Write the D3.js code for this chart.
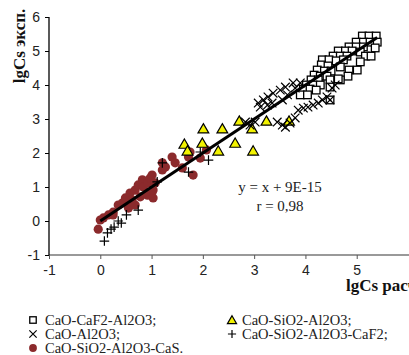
<!DOCTYPE html>
<html>
<head>
<meta charset="utf-8">
<script src="https://cdn.jsdelivr.net/npm/d3@7"></script>
<style>
  html, body { margin: 0; padding: 0; background: #fff; overflow: hidden; }
  svg { display: block; }
</style>
</head>
<body>
<svg id="chart" width="409" height="355"></svg>
<script>
// lgCs calc / lgCs exp pairs
const squares = [ // CaO-CaF2-Al2O3
  [5.11, 5.44], [5.24, 5.44], [5.38, 5.44], [4.99, 5.26], [5.13, 5.26], [5.26, 5.26], [5.40, 5.26],
  [4.85, 5.12], [4.99, 5.12], [5.13, 5.12], [5.36, 5.09], [4.64, 5.00], [4.78, 5.00], [4.91, 5.00],
  [5.07, 4.97], [4.54, 4.85], [4.68, 4.85], [4.81, 4.85], [5.17, 4.85], [5.28, 4.85], [4.33, 4.74],
  [4.46, 4.74], [4.60, 4.71], [4.74, 4.74], [5.07, 4.68], [4.31, 4.59], [4.44, 4.56], [4.68, 4.53],
  [4.23, 4.44], [4.37, 4.41], [4.50, 4.41], [4.85, 4.44], [5.01, 4.44], [4.17, 4.29], [4.29, 4.26],
  [4.42, 4.26], [4.11, 4.15], [4.25, 4.15], [4.48, 4.15], [4.83, 4.26], [4.68, 4.15], [4.02, 4.00],
  [4.15, 4.00], [4.29, 4.00], [4.64, 4.18], [3.96, 3.88], [4.09, 3.88], [4.21, 3.85], [4.48, 3.94],
  [3.90, 3.71], [4.04, 3.71], [4.48, 3.56]
];
const triangles = [ // CaO-SiO2-Al2O3
  [1.64, 2.26], [1.70, 2.06], [2.01, 2.71], [2.38, 2.71], [1.99, 2.29], [2.30, 2.06],
  [2.63, 2.29], [2.71, 2.94], [2.96, 2.71], [3.24, 2.94], [2.98, 2.06], [3.68, 2.94]
];
const crosses = [ // CaO-Al2O3
  [2.83, 2.91], [2.92, 2.82], [3.02, 2.91], [3.08, 3.47], [3.12, 3.35], [3.18, 3.56], [3.26, 3.41],
  [3.27, 3.65], [3.35, 3.47], [3.37, 3.76], [3.45, 2.91], [3.51, 3.85], [3.55, 2.82], [3.55, 3.56],
  [3.61, 3.94], [3.61, 2.76], [3.65, 3.71], [3.70, 2.88], [3.76, 4.06], [3.80, 3.91], [3.80, 3.03],
  [3.86, 3.26], [3.90, 4.06], [3.96, 3.32], [4.05, 3.35], [4.15, 3.41], [4.25, 3.47], [4.33, 3.56],
  [4.42, 3.65], [4.48, 3.56], [4.52, 3.91], [4.58, 4.00]
];
const pluses = [ // CaO-SiO2-Al2O3-CaF2
  [0.08, -0.59], [0.14, -0.35], [0.21, -0.24], [0.27, -0.18], [0.35, 0.00], [0.41, -0.06],
  [0.51, 0.18], [0.74, 0.32], [1.11, 1.15], [1.21, 1.71], [1.72, 1.44], [1.95, 2.03], [2.11, 1.79]
];
const circles = [ // CaO-SiO2-Al2O3-CaS
  [-0.04, -0.24], [0.00, 0.03], [0.06, 0.09], [0.16, 0.18], [0.25, 0.26], [0.25, 0.18], [0.35, 0.47],
  [0.43, 0.53], [0.49, 0.68], [0.55, 0.38], [0.58, 0.82], [0.62, 0.62], [0.68, 0.91], [0.68, 0.47],
  [0.74, 1.06], [0.78, 0.71], [0.82, 1.21], [0.84, 1.00], [0.92, 1.12], [0.92, 0.76], [0.97, 1.26],
  [1.01, 0.85], [1.03, 0.68], [1.07, 1.12], [1.03, 0.91], [1.01, 1.35], [1.21, 1.71], [1.21, 1.50],
  [1.27, 1.59], [1.40, 1.88], [1.46, 1.71], [1.60, 1.56], [1.72, 1.88], [1.75, 2.03], [1.81, 1.35],
  [1.95, 1.85], [2.07, 2.09]
];
const fitLine = [[0, 0], [5.4, 5.4]];
const xTicks = [-1, 0, 1, 2, 3, 4, 5];
const yTicks = [-1, 0, 1, 2, 3, 4, 5, 6];
const legendLabels = ['CaO-CaF2-Al2O3;', 'CaO-SiO2-Al2O3;', 'CaO-Al2O3;', 'CaO-SiO2-Al2O3-CaF2;', 'CaO-SiO2-Al2O3-CaS.'];

const RED = '#8b2a2c';
const YELLOW = '#f2f200';
const SERIF = '"Liberation Serif", "Times New Roman", serif';
const SANS = '"Liberation Sans", Arial, sans-serif';

const svg = d3.select('#chart');
const x = d3.scaleLinear().domain([-1, 6]).range([49, 408]);
const y = d3.scaleLinear().domain([-1, 6]).range([255, 17]);

// axes (plain hyphen for negatives, like the original)
const fmt = d => String(d);
const xAxis = svg.append('g')
  .attr('transform', `translate(0,${y(-1)})`)
  .call(d3.axisBottom(x).tickValues(xTicks).tickSize(4).tickPadding(6).tickFormat(fmt));
xAxis.select('.domain').attr('stroke', '#777').attr('stroke-width', 1.3).attr('d', `M${x(-1)},0H409`);
xAxis.selectAll('line').attr('stroke', '#555');
xAxis.selectAll('text').attr('font-family', SANS).attr('font-size', 14).attr('fill', '#222');

const yAxis = svg.append('g')
  .attr('transform', `translate(${x(-1)},0)`)
  .call(d3.axisLeft(y).tickValues(yTicks).tickSize(4).tickPadding(5).tickFormat(fmt));
yAxis.select('.domain').attr('stroke', '#000').attr('stroke-width', 1.3).attr('d', `M0,${y(6)}V${y(-1)}`);
yAxis.selectAll('line').attr('stroke', '#000');
yAxis.selectAll('text').attr('font-family', SANS).attr('font-size', 14).attr('fill', '#222');

// markers
const triSym = d3.symbol().type(d3.symbolTriangle);

function drawMarker(g, kind, cx, cy, scale) {
  const k = scale || 1;
  if (kind === 'circle') {
    g.append('circle').attr('cx', cx).attr('cy', cy).attr('r', 4.6 * k).attr('fill', RED);
  } else if (kind === 'square') {
    const s = 7.6 * k;
    g.append('rect').attr('x', cx - s / 2).attr('y', cy - s / 2).attr('width', s).attr('height', s)
      .attr('fill', '#fff').attr('stroke', '#000').attr('stroke-width', 1.3);
  } else if (kind === 'triangle') {
    g.append('path').attr('d', triSym.size(50 * k * k)()).attr('transform', `translate(${cx},${cy + 1})`)
      .attr('fill', YELLOW).attr('stroke', '#000').attr('stroke-width', 1.2);
  } else if (kind === 'cross') {
    const h = 4.3 * k;
    g.append('path').attr('d', `M${cx - h},${cy - h}L${cx + h},${cy + h}M${cx - h},${cy + h}L${cx + h},${cy - h}`)
      .attr('stroke', '#000').attr('stroke-width', 1.2).attr('fill', 'none');
  } else if (kind === 'plus') {
    const h = 4.8 * k;
    g.append('path').attr('d', `M${cx - h},${cy}H${cx + h}M${cx},${cy - h}V${cy + h}`)
      .attr('stroke', '#000').attr('stroke-width', 1.2).attr('fill', 'none');
  }
}

const plot = svg.append('g');
const series = [
  { data: circles, kind: 'circle' },
  { data: triangles, kind: 'triangle' },
  { data: squares, kind: 'square' },
  { data: crosses, kind: 'cross' },
  { data: pluses, kind: 'plus' }
];
series.forEach(s => {
  const g = plot.append('g');
  s.data.forEach(d => drawMarker(g, s.kind, x(d[0]), y(d[1])));
});

// regression line
svg.append('path')
  .datum(fitLine)
  .attr('d', d3.line().x(d => x(d[0])).y(d => y(d[1])))
  .attr('stroke', '#000').attr('stroke-width', 3).attr('fill', 'none');

// equation
svg.append('text').attr('x', 280).attr('y', 192).attr('text-anchor', 'middle')
  .attr('font-family', SERIF).attr('font-size', 15).attr('fill', '#222').text('y = x + 9E-15');
svg.append('text').attr('x', 280).attr('y', 211).attr('text-anchor', 'middle')
  .attr('font-family', SERIF).attr('font-size', 15).attr('fill', '#222').text('r = 0,98');

// axis titles
svg.append('text').attr('transform', 'translate(25,46) rotate(-90)').attr('text-anchor', 'middle')
  .attr('font-family', SERIF).attr('font-weight', 'bold').attr('font-size', 17).attr('fill', '#111')
  .text('lgCs эксп.');
svg.append('text').attr('x', 346).attr('y', 291)
  .attr('font-family', SERIF).attr('font-weight', 'bold').attr('font-size', 17).attr('fill', '#111')
  .text('lgCs расч.');

// legend
const legendPos = [
  { kind: 'square', mx: 33, tx: 45, y: 320 },
  { kind: 'triangle', mx: 232, tx: 242, y: 320 },
  { kind: 'cross', mx: 33, tx: 45, y: 334 },
  { kind: 'plus', mx: 232, tx: 242, y: 334 },
  { kind: 'circle', mx: 33, tx: 45, y: 348 }
];
const legend = svg.append('g');
legendLabels.forEach((label, i) => {
  const p = legendPos[i];
  drawMarker(legend, p.kind, p.mx, p.y, 0.85);
  legend.append('text').attr('x', p.tx).attr('y', p.y + 5)
    .attr('font-family', SERIF).attr('font-size', 14.5).attr('fill', '#222').text(label);
});
</script>
</body>
</html>
